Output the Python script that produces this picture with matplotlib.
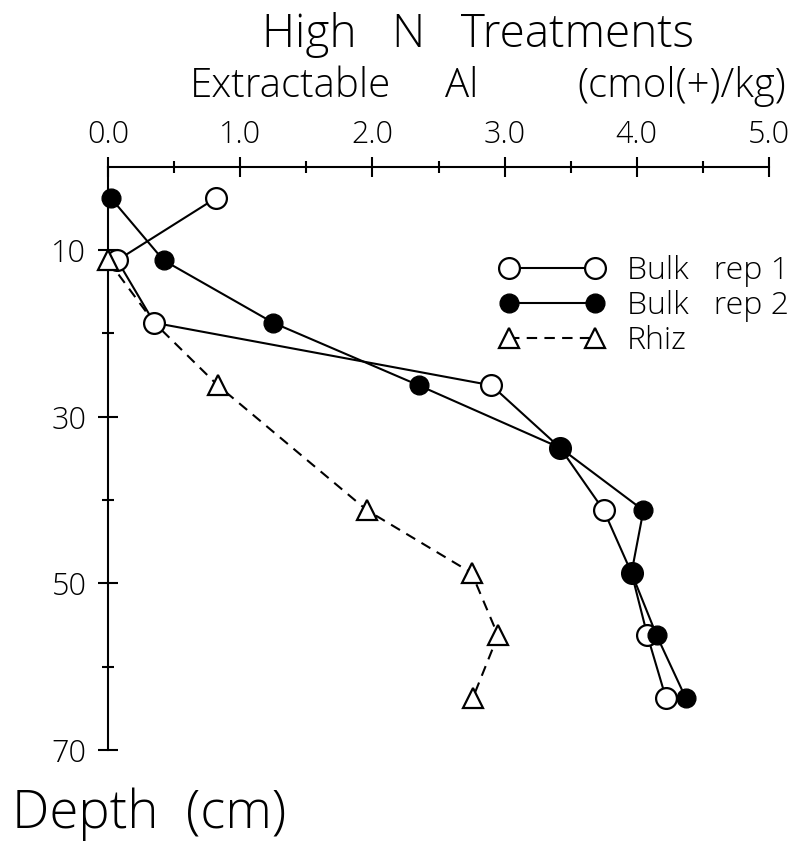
import numpy as np
import matplotlib
matplotlib.use("Agg")
import matplotlib.pyplot as plt
from matplotlib.lines import Line2D

plt.rcParams['font.family'] = ['Open Sans', 'DejaVu Sans']
plt.rcParams['font.weight'] = 'light'

# depth (cm) of each sampled layer
depth = [3.75, 11.25, 18.75, 26.25, 33.75, 41.25, 48.75, 56.25, 63.75]
bulk_rep1 = [0.82, 0.07, 0.35, 2.90, 3.42, 3.75, 3.96, 4.08, 4.22]
bulk_rep2 = [0.02, 0.42, 1.25, 2.35, 3.42, 4.05, 3.96, 4.15, 4.37]

rhiz_depth = [11.25, 18.75, 26.25, 41.25, 48.75, 56.25, 63.75]
rhiz = [0.00, 0.35, 0.83, 1.96, 2.75, 2.95, 2.76]
rhiz_marked = [0, 2, 3, 4, 5, 6]   # the 18.75 cm point sits under a bulk circle

xticks = [0, 1, 2, 3, 4, 5]
xtick_labels = ['0.0', '1.0', '2.0', '3.0', '4.0', '5.0']
xminor = [0.5, 1.5, 2.5, 3.5, 4.5]
yticks = [10, 30, 50, 70]
yminor = [20, 40, 60]

W, H = 808, 842
fig = plt.figure(figsize=(W / 100, H / 100), dpi=100)
ax = fig.add_axes([108 / W, 1 - 750 / H, (769 - 108) / W, (750 - 166.5) / H])

lw = 1.5
rhiz_dash = (0, (5, 3.5))

# lines first, markers on top so lines stop at the symbols
ax.plot(rhiz, rhiz_depth, color='black', lw=lw, linestyle=rhiz_dash, zorder=2)
ax.plot(bulk_rep1, depth, color='black', lw=lw, zorder=2)
ax.plot(bulk_rep2, depth, color='black', lw=lw, zorder=2)

ax.plot(bulk_rep1, depth, linestyle='none', marker='o', ms=15, mfc='white',
        mec='black', mew=1.6, zorder=3, clip_on=False)
ax.plot([rhiz[i] for i in rhiz_marked], [rhiz_depth[i] for i in rhiz_marked],
        linestyle='none', marker='^', ms=15, mfc='white', mec='black',
        mew=1.6, zorder=4, clip_on=False)
ax.plot(bulk_rep2, depth, linestyle='none', marker='o', ms=13.5, mfc='black',
        mec='black', zorder=5, clip_on=False)

ax.set_xlim(0, 5)
ax.set_ylim(70, 0)
ax.xaxis.tick_top()
ax.set_xticks(xticks)
ax.set_xticklabels(xtick_labels)
ax.set_xticks(xminor, minor=True)
ax.set_yticks(yticks)
ax.set_yticks(yminor, minor=True)

for s in ['right', 'bottom']:
    ax.spines[s].set_visible(False)
for s in ['top', 'left']:
    ax.spines[s].set_linewidth(1.5)

ax.tick_params(which='major', direction='inout', length=15, width=1.5, labelsize=22)
ax.tick_params(which='minor', direction='inout', length=9, width=1.5)
ax.tick_params(axis='x', which='major', pad=4)
ax.tick_params(axis='y', which='major', pad=8)

# titles
fig.text(478.5 / W, 1 - 47 / H, 'High   N   Treatments', ha='center', va='baseline', fontsize=33)
fig.text(190 / W, 1 - 97 / H, 'Extractable', ha='left', va='baseline', fontsize=29)
fig.text(445 / W, 1 - 97 / H, 'Al', ha='left', va='baseline', fontsize=29)
fig.text(786 / W, 1 - 97 / H, '(cmol(+)/kg)', ha='right', va='baseline', fontsize=29)
fig.text(12 / W, 1 - 828 / H, 'Depth  (cm)', ha='left', va='baseline', fontsize=38)

handles = [
    Line2D([], [], color='black', lw=lw, marker='o', ms=15, mfc='white', mec='black', mew=1.6),
    Line2D([], [], color='black', lw=lw, marker='o', ms=13.5, mfc='black', mec='black'),
    Line2D([], [], color='black', lw=lw, linestyle=rhiz_dash, marker='^', ms=15,
           mfc='white', mec='black', mew=1.6),
]
labels = ['Bulk   rep 1', 'Bulk   rep 2', 'Rhiz']
ax.legend(handles, labels, loc='upper left', bbox_to_anchor=(499 / W, 1 - 255 / H),
          bbox_transform=fig.transFigure, frameon=False, fontsize=23, numpoints=2,
          handlelength=3.3, handletextpad=0.7, labelspacing=0.1,
          borderpad=0, borderaxespad=0)

plt.savefig('out.png', dpi=100)
